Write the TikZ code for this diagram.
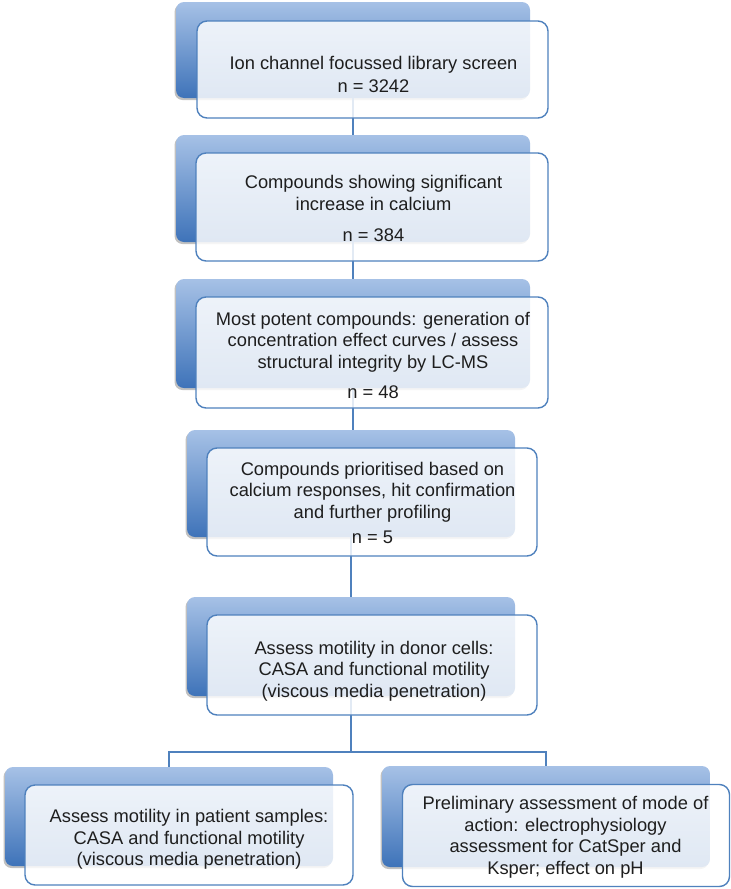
\documentclass[tikz,border=0pt]{standalone}
\usepackage{fontspec}
\setmainfont{Liberation Sans}
\usetikzlibrary{shadows}
\definecolor{backtop}{RGB}{166,193,230}
\definecolor{backbot}{RGB}{62,115,185}
\definecolor{frameblue}{RGB}{79,129,189}
\definecolor{txt}{RGB}{30,30,30}
\tikzset{
  backbox/.style={rectangle, rounded corners=8pt, inner sep=0pt,
    top color=backtop, bottom color=backbot, draw=none,
    drop shadow={shadow xshift=-1.5pt, shadow yshift=-2pt, opacity=0.35, fill=black!70}},
  frontbox/.style={rectangle, rounded corners=10pt, inner sep=0pt,
    draw=frameblue, line width=1.4pt, fill=white, fill opacity=0.84, draw opacity=1},
  label/.style={align=center, inner sep=0pt, text=txt,
    font=\fontsize{18.3}{21.5}\selectfont},
  link/.style={draw=frameblue, line width=1.4pt}
}
\begin{document}
\begin{tikzpicture}[x=1pt,y=-1pt]
\useasboundingbox (0,0) rectangle (731,889);
% back boxes
\node[backbox, minimum width=354pt, minimum height=96pt]  (b1) at (353,50) {};
\node[backbox, minimum width=354pt, minimum height=107pt] (b2) at (353,188.5) {};
\node[backbox, minimum width=354pt, minimum height=109pt] (b3) at (353,333.5) {};
\node[backbox, minimum width=328pt, minimum height=107pt] (b4) at (351,483.5) {};
\node[backbox, minimum width=328pt, minimum height=99pt]  (b5) at (351,646.5) {};
\node[backbox, minimum width=328pt, minimum height=99pt]  (b6) at (169,816.5) {};
\node[backbox, minimum width=328pt, minimum height=101pt] (b7) at (546,816.5) {};
% connectors
\coordinate (j) at (351,752);
\draw[link] (b1.south) -- (b2.north);
\draw[link] (b2.south) -- (b3.north);
\draw[link] (b3.south) -- (b3.south |- b4.north);
\draw[link] (b4.south) -- (b5.north);
\draw[link] (b5.south) -- (j);
\draw[link] (b6.north) |- (j) -| (b7.north);
% front boxes
\node[frontbox, minimum width=351pt, minimum height=97pt]  (f1) at (372.5,69.5) {};
\node[frontbox, minimum width=352pt, minimum height=108pt] (f2) at (372,207) {};
\node[frontbox, minimum width=352pt, minimum height=111pt] (f3) at (372,352.5) {};
\node[frontbox, minimum width=330pt, minimum height=108pt] (f4) at (372,502) {};
\node[frontbox, minimum width=330pt, minimum height=100pt] (f5) at (372,665) {};
\node[frontbox, minimum width=328pt, minimum height=100pt] (f6) at (189,835) {};
\node[frontbox, minimum width=327pt, minimum height=102pt] (f7) at (566,835.5) {};
% texts
\node[label] (t1) at (373.5,77) {\strut Ion channel focussed library screen\\[1.5pt] n = 3242\strut};
\node[label] (t2) at (373.5,210.5) {\strut Compounds showing significant\\ increase in calcium\\[9.5pt] n = 384\strut};
\node[label] (t3) at (373,357.5) {\strut Most potent compounds: generation of\\ concentration effect curves / assess\\ structural integrity by LC-MS\\[8.5pt] n = 48\strut};
\node[label] (t4) at (372.5,505) {\strut Compounds prioritised based on\\ calcium responses, hit confirmation\\ and further profiling\\[3.5pt] n = 5\strut};
\node[label] (t5) at (374,671.5) {\strut Assess motility in donor cells:\\ CASA and functional motility\\ (viscous media penetration)\strut};
\node[label] (t6) at (189,840) {\strut Assess motility in patient samples:\\ CASA and functional motility\\ (viscous media penetration)\strut};
\node[label] (t7) at (565.5,837.5) {\strut Preliminary assessment of mode of\\ action: electrophysiology\\ assessment for CatSper and\\ Ksper; effect on pH\strut};
\end{tikzpicture}
\end{document}
